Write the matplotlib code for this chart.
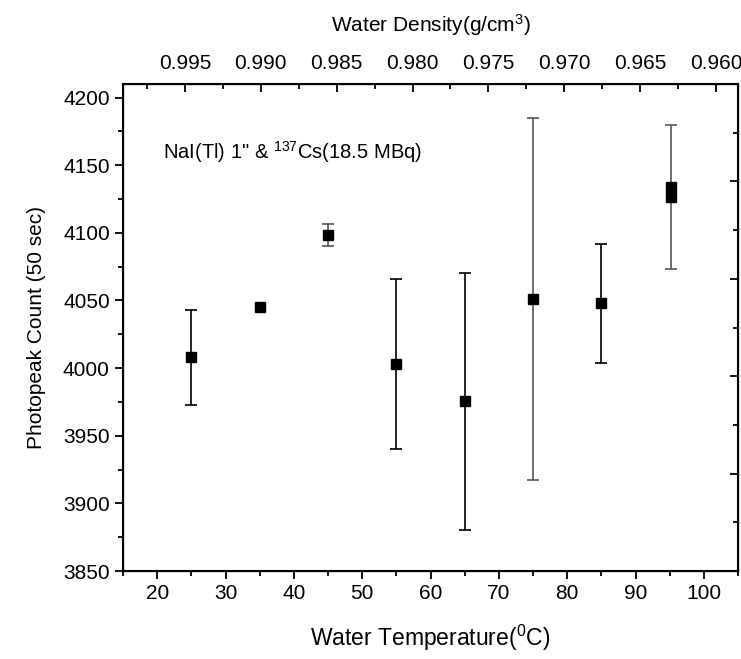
import numpy as np
import matplotlib
matplotlib.use("Agg")
import matplotlib.pyplot as plt
from matplotlib.ticker import MultipleLocator

plt.rcParams['font.family'] = ['Liberation Sans', 'DejaVu Sans']
plt.rcParams['mathtext.fontset'] = 'custom'
plt.rcParams['mathtext.rm'] = 'Liberation Sans'
plt.rcParams['mathtext.it'] = 'Liberation Sans:italic'
plt.rcParams['mathtext.bf'] = 'Liberation Sans:bold'

# water temperature (C), photopeak count, error
temp = [25, 35, 45, 55, 65, 75, 85, 95.2, 95.2]
counts = [4008, 4045.5, 4098.5, 4003, 3975.5, 4051, 4048, 4134, 4126.5]
errs = [35, 0, 8, 63, 95, 134, 44, 0, 53]
err_colors = ['black', 'black', '#555555', 'black', 'black', '#555555', 'black', '#555555', '#555555']

density_ticks = [0.995, 0.990, 0.985, 0.980, 0.975, 0.970, 0.965, 0.960]

fig = plt.figure(figsize=(7.41, 6.59), dpi=100)
ax = fig.add_axes([0.166, 0.1335, 0.83, 0.739])

for t, c, e, col in zip(temp, counts, errs, err_colors):
    if e > 0:
        ax.errorbar(t, c, yerr=e, fmt='none', ecolor=col, elinewidth=1.2,
                    capsize=4.5, capthick=1.2, zorder=2)
ax.plot(temp, counts, 's', color='black', markersize=7, zorder=3)

ax.set_xlim(15, 105)
ax.set_ylim(3850, 4210)
ax.xaxis.set_minor_locator(MultipleLocator(5))
ax.set_xticks(range(20, 101, 10))
ax.yaxis.set_minor_locator(MultipleLocator(25))
ax.set_yticks(range(3850, 4201, 50))
ax.tick_params(axis='both', which='major', direction='out', length=6, width=1.3,
               labelsize=15, top=False, right=False)
ax.tick_params(axis='both', which='minor', direction='out', length=3.5, width=1.3,
               top=False, right=False)
for s in ax.spines.values():
    s.set_linewidth(1.5)

ax.set_xlabel('Water Temperature($^0$C)', fontsize=16.5, labelpad=14)
ax.set_ylabel('Photopeak Count (50 sec)', fontsize=15, labelpad=12)

ax.text(0.065, 0.86, 'NaI(Tl) 1" & $^{137}$Cs(18.5 MBq)', transform=ax.transAxes,
        fontsize=14.5, va='center', ha='left')

# top axis: water density
top = ax.twiny()
top.set_xlim(0.99908, 0.95855)
top.set_xticks(density_ticks)
top.set_xticklabels(['%.3f' % d for d in density_ticks])
top.xaxis.set_minor_locator(MultipleLocator(0.0025))
top.tick_params(axis='x', which='major', direction='in', length=6, width=1.3, labelsize=15, pad=8)
top.tick_params(axis='x', which='minor', direction='in', length=3.5, width=1.3)
top.set_xlabel('Water Density(g/cm$^3$)', fontsize=15, labelpad=16)

# right axis: ticks only
right = ax.twinx()
right.set_ylim(0, 5)
right.yaxis.set_major_locator(MultipleLocator(1))
right.yaxis.set_minor_locator(MultipleLocator(0.5))
right.tick_params(axis='y', which='major', direction='in', length=6, width=1.3, labelright=False)
right.tick_params(axis='y', which='minor', direction='in', length=3.5, width=1.3)

fig.savefig('out.png', dpi=100)
